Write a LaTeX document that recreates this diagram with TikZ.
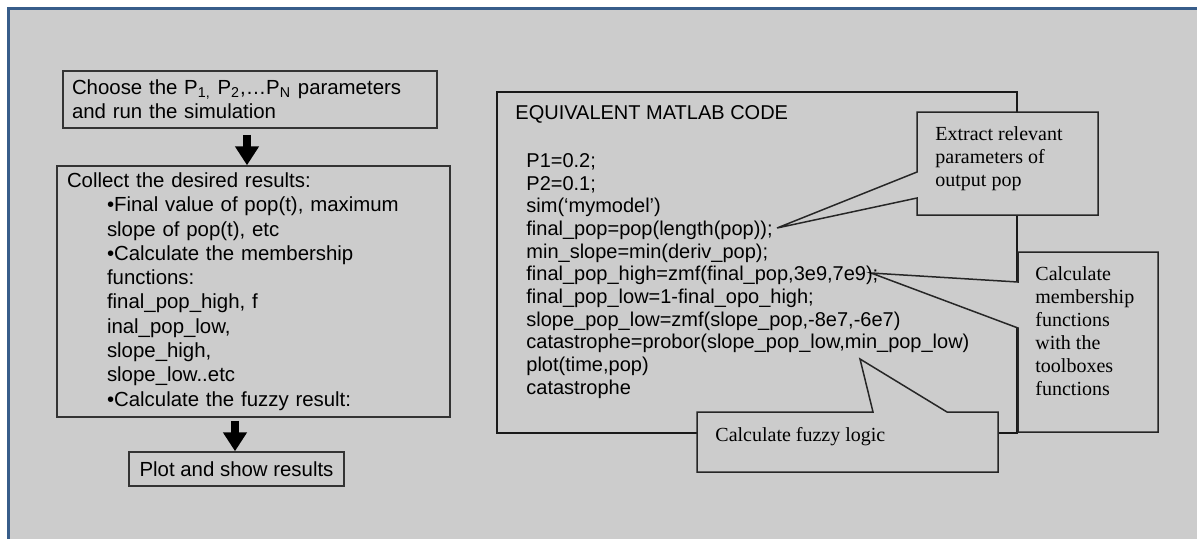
\documentclass[tikz,border=0pt]{standalone}
\usepackage{fontspec}
\setmainfont{Liberation Sans}
\newfontfamily\timesfont{Liberation Serif}
\usetikzlibrary{arrows.meta, positioning, calc}
\definecolor{slidegray}{RGB}{204, 204, 204}
\definecolor{frameblue}{RGB}{56, 93, 138}
\newcommand{\ind}{\hspace*{20pt}}

\tikzset{
  flowbox/.style={draw=black!80, line width=0.75pt, fill=slidegray, align=left, inner ysep=0pt, font=\fontsize{10.2}{12.15}\selectfont},
  blockarrow/.style={line width=4pt, -{Triangle[width=11.5pt,length=9.5pt]}},
  callout/.style={draw=black!85, line width=0.75pt, fill=slidegray},
  codetext/.style={font=\fontsize{10}{11.35}\selectfont, align=left, anchor=north west, inner sep=0pt},
  notetext/.style={font=\timesfont\fontsize{10}{11.5}\selectfont, align=left, anchor=north west, inner sep=0pt}
}

\begin{document}
\begin{tikzpicture}[x=0.5pt, y=-0.5pt]
  % slide background and frame
  \useasboundingbox (0,0) rectangle (1197,538);
  \fill[white] (0,0) rectangle (1197,538);
  \fill[slidegray] (8.5,8.5) rectangle (1200,541);
  \draw[frameblue, line width=1.5pt] (1200,8.5) -- (8.5,8.5) -- (8.5,541);

  % flow chart on the left
  \node[flowbox, minimum width=187pt, minimum height=28.5pt, inner xsep=4.5pt, text width=178pt] (choose) at (250,99.5)
    {Choose the P\textsubscript{1,} P\textsubscript{2},…P\textsubscript{N} parameters\\ and run the simulation};
  \node[flowbox, minimum width=196.5pt, minimum height=125.5pt, inner xsep=5pt, text width=186.5pt] (collect) at (253.5,291.5)
    {\rule{0pt}{2pt}Collect the desired results:\\
     \ind•Final value of pop(t), maximum\\
     \ind slope of pop(t), etc\\
     \ind•Calculate the membership\\
     \ind functions:\\
     \ind final\_pop\_high, f\\
     \ind inal\_pop\_low,\\
     \ind slope\_high,\\
     \ind slope\_low..etc\\
     \ind•Calculate the fuzzy result:};
  \node[flowbox, minimum width=107.5pt, minimum height=17pt, align=center] (plotres) at (236.5,469)
    {Plot and show results};

  \draw[blockarrow, shorten <=3pt] ([xshift=-1.5pt]choose.south) -- ([xshift=-1.5pt]choose.south |- collect.north);
  \draw[blockarrow, shorten <=1.5pt] ([xshift=-0.75pt]plotres.north |- collect.south) -- ([xshift=-0.75pt]plotres.north);

  % matlab code box
  \node[draw=black!90, line width=1pt, fill=slidegray, minimum width=260pt, minimum height=170.5pt, inner sep=0pt] (matlab) at (757,262.5) {};

  % callouts
  \coordinate (extracttip) at (777,228);
  \coordinate (membertip) at (871,273);
  \coordinate (fuzzytip) at (860,359);
  \draw[callout] (917,112) -- (1098,112) -- (1098,215) -- (917,215) -- (917,198) -- (extracttip) -- (917,172) -- cycle;
  \draw[callout] (1018,252) -- (1158,252) -- (1158,432) -- (1018,432) -- (1018,328) -- (membertip) -- (1018,282) -- cycle;
  \draw[callout] (697,412) -- (873,412) -- (fuzzytip) -- (947,412) -- (998,412) -- (998,472) -- (697,472) -- cycle;

  \node[codetext] (heading) at (515,105) {EQUIVALENT MATLAB CODE};
  \node[codetext] (code) at (526,153)
    {P1=0.2;\\
     P2=0.1;\\
     sim(‘mymodel’)\\
     final\_pop=pop(length(pop));\\
     min\_slope=min(deriv\_pop);\\
     final\_pop\_high=zmf(final\_pop,3e9,7e9);\\
     final\_pop\_low=1-final\_opo\_high;\\
     slope\_pop\_low=zmf(slope\_pop,-8e7,-6e7)\\
     catastrophe=probor(slope\_pop\_low,min\_pop\_low)\\
     plot(time,pop)\\
     catastrophe};

  \node[notetext] (extract) at (935,126) {Extract relevant\\ parameters of\\ output pop};
  \node[notetext] (member) at (1035,266) {Calculate\\ membership\\ functions\\ with the\\ toolboxes\\ functions};
  \node[notetext] (fuzzy) at (715,427) {Calculate fuzzy logic};
\end{tikzpicture}
\end{document}
